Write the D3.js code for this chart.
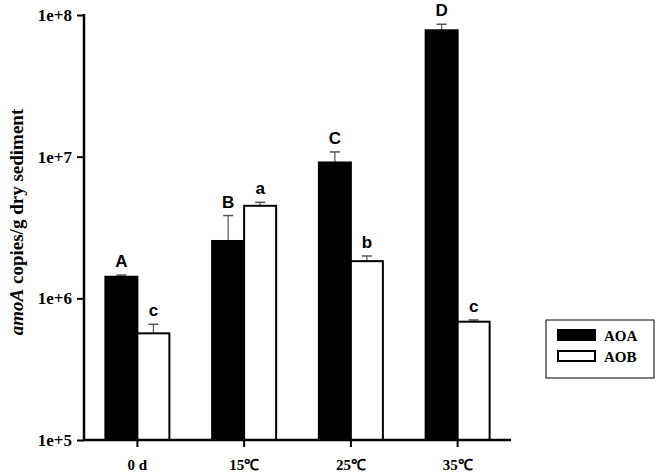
<!DOCTYPE html>
<html>
<head>
<meta charset="utf-8">
<script src="https://cdn.jsdelivr.net/npm/d3@7"></script>
<style>
    body { margin: 0; background: #fff; }
    text { font-family: 'Liberation Serif', 'Times New Roman', serif; font-weight: bold; }
    .sig { font-family: 'Liberation Sans', Arial, sans-serif; font-size: 17px; }
</style>
</head>
<body>
<div id="graph"></div>
<script>
'use strict';

// categories and series
const categories = ['0 d', '15℃', '25℃', '35℃'];
const seriesNames = ['AOA', 'AOB'];
const aoaValues = [1.42e6, 2.54e6, 9.1e6, 7.8e7];
const aoaErrors = [0.04e6, 1.3e6, 1.7e6, 0.8e7];
const aobValues = [5.66e5, 4.5e6, 1.83e6, 6.84e5];
const aobErrors = [0.9e5, 0.26e6, 0.16e6, 0.2e5];
const aoaLetters = ['A', 'B', 'C', 'D'];
const aobLetters = ['c', 'a', 'b', 'c'];
const yTicks = [1e5, 1e6, 1e7, 1e8];

const measurements = {
    width: 658,
    height: 475,
    left: 84,
    right: 511,
    top: 15,
    bottom: 440,
    barWidth: 32
};

let svg = d3.select('#graph')
    .append('svg')
    .attr('width', measurements.width)
    .attr('height', measurements.height);

// build rows from the arrays
let rows = [];
categories.forEach(function(c, i) {
    rows.push({cat: c, series: 'AOA', value: aoaValues[i], err: aoaErrors[i], letter: aoaLetters[i], offset: -1});
    rows.push({cat: c, series: 'AOB', value: aobValues[i], err: aobErrors[i], letter: aobLetters[i], offset: 0});
});

let xScale = d3.scaleBand()
    .domain(categories)
    .range([measurements.left, measurements.right]);

let yScale = d3.scaleLog()
    .domain([1e5, 1e8])
    .range([measurements.bottom, measurements.top]);

let color = d3.scaleOrdinal().domain(seriesNames).range(['#000', '#fff']);

let barX = function(d) { return xScale(d.cat) + xScale.bandwidth() / 2 + d.offset * measurements.barWidth; };
let barMid = function(d) { return barX(d) + measurements.barWidth / 2; };

// error bars (drawn first, so they hide inside the bars)
let errG = svg.append('g');
rows.forEach(function(d) {
    let top = yScale(d.value + d.err);
    errG.append('line')
        .attr('x1', barMid(d)).attr('x2', barMid(d))
        .attr('y1', yScale(d.value)).attr('y2', top)
        .attr('stroke', '#555').attr('stroke-width', 1.2);
    errG.append('line')
        .attr('x1', barMid(d) - 5).attr('x2', barMid(d) + 5)
        .attr('y1', top).attr('y2', top)
        .attr('stroke', '#555').attr('stroke-width', 1.5);
});

// bars
svg.selectAll('.bar')
    .data(rows)
    .enter()
    .append('rect')
    .attr('class', 'bar')
    .attr('x', barX)
    .attr('y', function(d) { return yScale(d.value); })
    .attr('width', measurements.barWidth)
    .attr('height', function(d) { return measurements.bottom - yScale(d.value); })
    .attr('fill', function(d) { return color(d.series); })
    .attr('stroke', '#000')
    .attr('stroke-width', 2);

// significance letters
svg.selectAll('.sig')
    .data(rows)
    .enter()
    .append('text')
    .attr('class', 'sig')
    .attr('x', barMid)
    .attr('y', function(d) { return yScale(d.value + d.err) - 8; })
    .attr('text-anchor', 'middle')
    .text(function(d) { return d.letter; });

// y axis
let yAxis = d3.axisLeft(yScale)
    .tickValues(yTicks)
    .tickSize(7)
    .tickPadding(5)
    .tickFormat(function(d) { return '1e+' + Math.round(Math.log10(d)); });
let yG = svg.append('g')
    .attr('transform', 'translate(' + measurements.left + ',0)')
    .call(yAxis);
yG.select('.domain').remove();
yG.append('line')
    .attr('x1', 0).attr('x2', 0)
    .attr('y1', measurements.top - 1).attr('y2', measurements.bottom)
    .attr('stroke', '#000').attr('stroke-width', 2.5);
yG.selectAll('.tick line').attr('stroke-width', 2);
yG.selectAll('.tick text')
    .attr('font-size', 17)
    .attr('font-family', "'Liberation Serif', serif")
    .attr('font-weight', 'bold')
    .attr('fill', '#000');

// x axis
let xAxis = d3.axisBottom(xScale).tickSize(7).tickPadding(12);
let xG = svg.append('g')
    .attr('transform', 'translate(0,' + measurements.bottom + ')')
    .call(xAxis);
xG.select('.domain').remove();
xG.append('line')
    .attr('x1', measurements.left - 1).attr('x2', measurements.right)
    .attr('y1', 0).attr('y2', 0)
    .attr('stroke', '#000').attr('stroke-width', 2.5);
xG.selectAll('.tick line').attr('stroke-width', 2);
xG.selectAll('.tick text')
    .attr('font-size', 15)
    .attr('font-family', "'Liberation Serif', serif")
    .attr('font-weight', 'bold')
    .attr('fill', '#000');

// y title
let yTitle = svg.append('text')
    .attr('transform', 'translate(23,222)rotate(-90)')
    .attr('text-anchor', 'middle')
    .attr('font-size', 19);
yTitle.append('tspan').attr('font-style', 'italic').text('amoA');
yTitle.append('tspan').text(' copies/g dry sediment');

// legend
let legend = svg.append('g');
legend.append('rect')
    .attr('x', 546).attr('y', 320)
    .attr('width', 108).attr('height', 58)
    .attr('fill', '#fff').attr('stroke', '#000').attr('stroke-width', 1);
seriesNames.forEach(function(s, i) {
    legend.append('rect')
        .attr('x', 558).attr('y', 330 + i * 21)
        .attr('width', 37).attr('height', 10)
        .attr('fill', color(s))
        .attr('stroke', '#000').attr('stroke-width', 2);
    legend.append('text')
        .attr('x', 604).attr('y', 341 + i * 21)
        .attr('font-size', 15)
        .text(s);
});
</script>
</body>
</html>
